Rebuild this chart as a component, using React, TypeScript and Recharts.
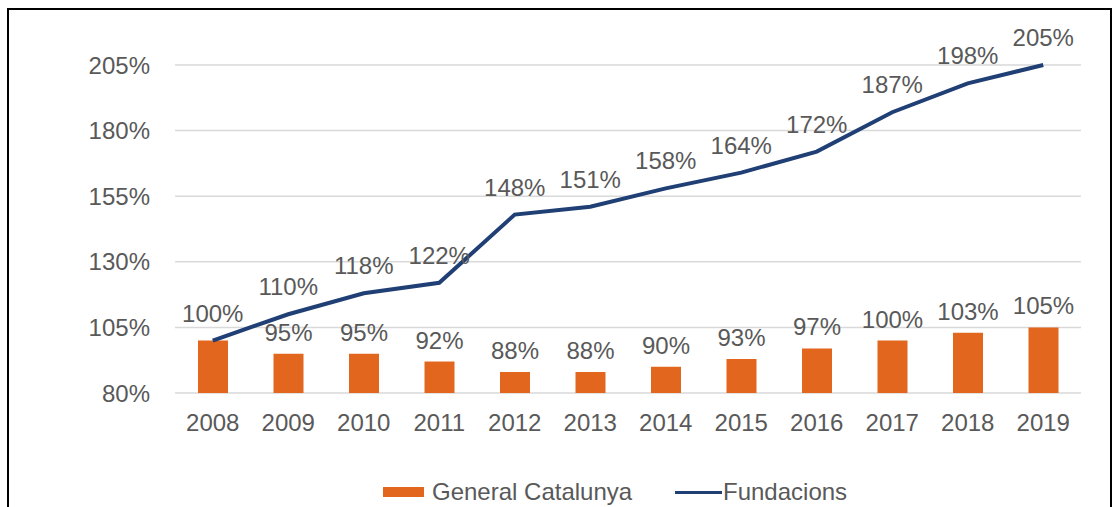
import React from 'react';
import { ComposedChart, Bar, Line, XAxis, YAxis, CartesianGrid, Legend, LabelList } from 'recharts';

const years = ['2008', '2009', '2010', '2011', '2012', '2013', '2014', '2015', '2016', '2017', '2018', '2019'];
const general = [100, 95, 95, 92, 88, 88, 90, 93, 97, 100, 103, 105];
const fundacions = [100, 110, 118, 122, 148, 151, 158, 164, 172, 187, 198, 205];
const yTicks = [80, 105, 130, 155, 180, 205];

const ORANGE = '#E2661E';
const NAVY = '#1F3F75';
const TEXT = '#595959';
const FONT = '"Liberation Sans", Arial, sans-serif';

const data = years.map((y, i) => ({ year: y, general: general[i], fundacions: fundacions[i] }));

const pct = (v: any) => `${v}%`;

// the 2008 bar label sits under the line label, only one shows in the source
const BarLabel = (props: any) => {
  const { x, y, width, value, index } = props;
  if (index === 0) return null;
  return (
    <text x={x + width / 2} y={y - 13} textAnchor="middle" fill={TEXT} fontSize={24} fontFamily={FONT}>
      {value}%
    </text>
  );
};

const LegendBox = () => (
  <div style={{ position: 'relative', width: 1119, height: 30, fontFamily: FONT, fontSize: 24, color: TEXT }}>
    <div style={{ position: 'absolute', left: 383, top: 10, width: 41, height: 10, background: ORANGE }} />
    <span style={{ position: 'absolute', left: 432, top: 1 }}>General Catalunya</span>
    <div style={{ position: 'absolute', left: 675, top: 14, width: 47, height: 3, background: NAVY }} />
    <span style={{ position: 'absolute', left: 723, top: 1 }}>Fundacions</span>
  </div>
);

export default function App() {
  return (
    <div style={{ position: 'absolute', left: 0, top: 0, width: 1119, height: 507, overflow: 'hidden', background: '#fff' }}>
      <div style={{ position: 'absolute', left: 7, top: 8, width: 1101, height: 520, border: '2px solid #000' }} />
      <div style={{ position: 'absolute', left: 0, top: 0 }}>
        <ComposedChart width={1119} height={507} data={data} margin={{ top: 65, right: 38, bottom: 0, left: 0 }}>
          <CartesianGrid vertical={false} stroke="#D9D9D9" strokeWidth={1.5} />
          <XAxis
            dataKey="year"
            axisLine={false}
            tickLine={false}
            tickSize={0}
            tickMargin={21}
            height={84}
            tick={{ fill: TEXT, fontSize: 24, fontFamily: FONT }}
          />
          <YAxis
            domain={[80, 205]}
            ticks={yTicks}
            tickFormatter={pct}
            axisLine={false}
            tickLine={false}
            tickSize={0}
            tickMargin={25}
            width={175}
            tick={{ fill: TEXT, fontSize: 24, fontFamily: FONT }}
          />
          <Legend verticalAlign="bottom" content={<LegendBox />} wrapperStyle={{ left: 0, width: 1119 }} />
          <Bar dataKey="general" name="General Catalunya" fill={ORANGE} barSize={30} isAnimationActive={false}>
            <LabelList dataKey="general" content={<BarLabel />} />
          </Bar>
          <Line
            dataKey="fundacions"
            name="Fundacions"
            type="linear"
            stroke={NAVY}
            strokeWidth={4}
            dot={false}
            isAnimationActive={false}
          >
            <LabelList dataKey="fundacions" position="top" offset={19} formatter={pct} fill={TEXT} fontSize={24} fontFamily={FONT} />
          </Line>
        </ComposedChart>
      </div>
    </div>
  );
}
